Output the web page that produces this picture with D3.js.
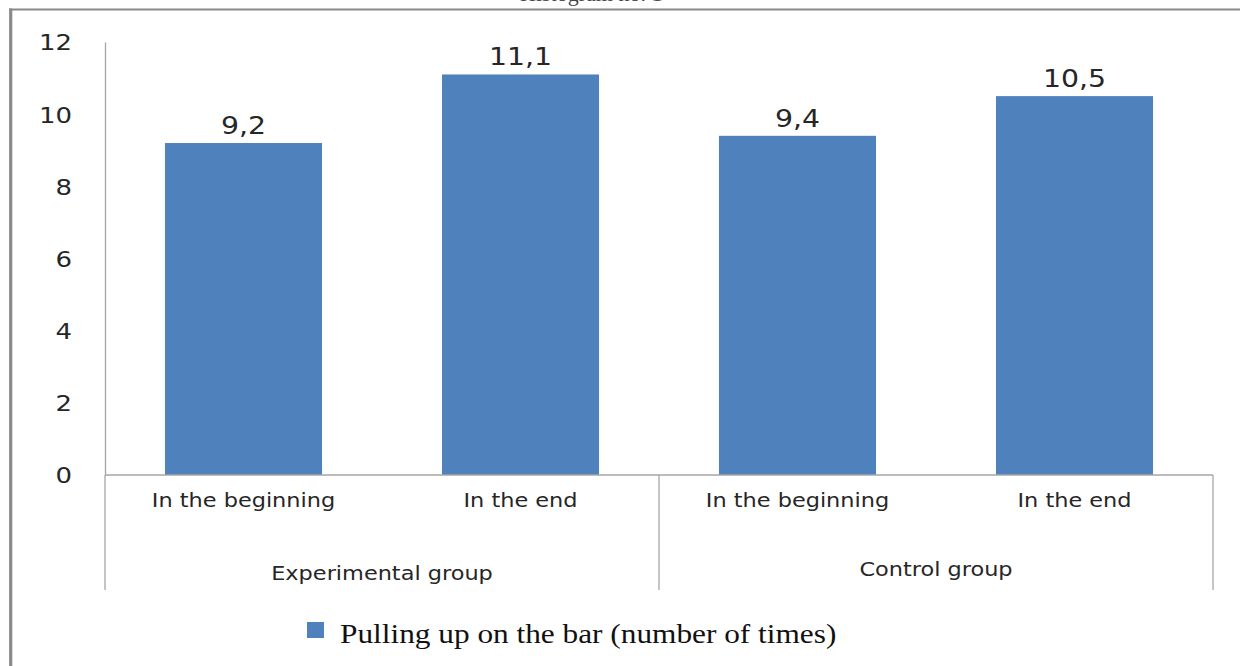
<!DOCTYPE html>
<html>
<head>
<meta charset="utf-8">
<script src="https://cdn.jsdelivr.net/npm/d3@7"></script>
<style>
  html, body { margin: 0; padding: 0; background: #fff; }
  svg { display: block; }
</style>
</head>
<body>
<svg id="chart" width="1240" height="666"></svg>
<script>
// Pull-ups on the bar, two groups measured at the beginning and the end
const groups = ["Experimental group", "Control group"];
const periods = ["In the beginning", "In the end"];
const categories = ["exp-begin", "exp-end", "ctl-begin", "ctl-end"];
const categoryGroup = [0, 0, 1, 1];
const categoryPeriod = [0, 1, 0, 1];
const values = [9.2, 11.1, 9.4, 10.5];
const valueLabels = ["9,2", "11,1", "9,4", "10,5"];
const yTicks = [0, 2, 4, 6, 8, 10, 12];
const seriesName = "Pulling up on the bar (number of times)";
const captionText = "Histogram no. 1";

const barColor = "#4f81bd";
const axisColor = "#a6a6a6";
const textColor = "#262626";
const sansFont = "'DejaVu Sans', Verdana, sans-serif";
const serifFont = "'Liberation Serif', 'Times New Roman', serif";
const stretch = 1.18; // wide glyph proportion used for all chart text

const svg = d3.select("#chart");

const plot = { left: 105, right: 1213, top: 42, bottom: 475, tickBottom: 590 };

const x = d3.scaleBand()
  .domain(categories)
  .range([plot.left, plot.right])
  .paddingInner(0.433)
  .paddingOuter(0.2165);

const y = d3.scaleLinear()
  .domain([0, 12])
  .range([plot.bottom, plot.top]);

// Outer frame (top and left rules)
svg.append("line")
  .attr("x1", 9).attr("x2", 1240).attr("y1", 9.5).attr("y2", 9.5)
  .attr("stroke", "#8a8a8a").attr("stroke-width", 2.2);
svg.append("line")
  .attr("x1", 10.7).attr("x2", 10.7).attr("y1", 8.5).attr("y2", 666)
  .attr("stroke", "#8a8a8a").attr("stroke-width", 3.2);

// Caption running off the top of the page, only its lowest strokes show
svg.append("text")
  .attr("transform", `translate(520,0.5)`)
  .attr("font-family", serifFont)
  .attr("font-size", 22)
  .attr("fill", "#444")
  .text(captionText);

// Bars
svg.append("g")
  .selectAll("rect")
  .data(categories)
  .join("rect")
  .attr("x", d => x(d))
  .attr("width", x.bandwidth())
  .attr("y", (d, i) => y(values[i]))
  .attr("height", (d, i) => y(0) - y(values[i]))
  .attr("fill", barColor);

// Value labels above bars
svg.append("g")
  .selectAll("text")
  .data(categories)
  .join("text")
  .attr("transform", (d, i) =>
    `translate(${x(d) + x.bandwidth() / 2},${y(values[i]) - 9}) scale(${stretch},1)`)
  .attr("text-anchor", "middle")
  .attr("font-family", sansFont)
  .attr("font-size", 24)
  .attr("fill", textColor)
  .text((d, i) => valueLabels[i]);

// Y axis
const yAxis = svg.append("g")
  .attr("transform", `translate(${plot.left},0)`)
  .call(d3.axisLeft(y).tickValues(yTicks).tickSize(0).tickPadding(0));
yAxis.select(".domain").attr("stroke", axisColor).attr("stroke-width", 1.3);
yAxis.selectAll(".tick text")
  .attr("x", 0)
  .attr("dy", "0.36em")
  .attr("transform", `translate(-33,0) scale(${stretch},1)`)
  .attr("font-family", sansFont)
  .attr("font-size", 22)
  .attr("fill", textColor);

// X axis baseline
svg.append("line")
  .attr("x1", plot.left).attr("x2", plot.right)
  .attr("y1", y(0)).attr("y2", y(0))
  .attr("stroke", axisColor).attr("stroke-width", 1.3);

// Group divider ticks: slot edges at the start of each group and at the end
const step = x.step();
const slotStart = d => x(d) - x.paddingInner() * step / 2;
const dividers = [slotStart(categories[0]), slotStart(categories[2]), plot.right];
svg.append("g")
  .selectAll("line")
  .data(dividers)
  .join("line")
  .attr("x1", d => d).attr("x2", d => d)
  .attr("y1", y(0)).attr("y2", plot.tickBottom)
  .attr("stroke", axisColor).attr("stroke-width", 1.3);

// Period labels under each bar
svg.append("g")
  .selectAll("text")
  .data(categories)
  .join("text")
  .attr("transform", d => `translate(${x(d) + x.bandwidth() / 2},507) scale(${stretch},1)`)
  .attr("text-anchor", "middle")
  .attr("font-family", sansFont)
  .attr("font-size", 19)
  .attr("fill", textColor)
  .text((d, i) => periods[categoryPeriod[i]]);

// Group labels centred under their pair of bars
const groupY = [580, 576];
svg.append("g")
  .selectAll("text")
  .data(groups)
  .join("text")
  .attr("transform", (g, gi) => {
    const members = categories.filter((c, i) => categoryGroup[i] === gi);
    const x0 = slotStart(members[0]);
    const x1 = slotStart(members[members.length - 1]) + step;
    return `translate(${(x0 + x1) / 2},${groupY[gi]}) scale(${stretch},1)`;
  })
  .attr("text-anchor", "middle")
  .attr("font-family", sansFont)
  .attr("font-size", 19)
  .attr("fill", textColor)
  .text(g => g);

// Legend
const legend = svg.append("g").attr("transform", "translate(307,622)");
legend.append("rect")
  .attr("width", 17).attr("height", 16)
  .attr("fill", barColor);
legend.append("text")
  .attr("transform", `translate(33,21) scale(1.16,1)`)
  .attr("font-family", serifFont)
  .attr("font-size", 27)
  .attr("fill", "#111")
  .text(seriesName);
</script>
</body>
</html>
